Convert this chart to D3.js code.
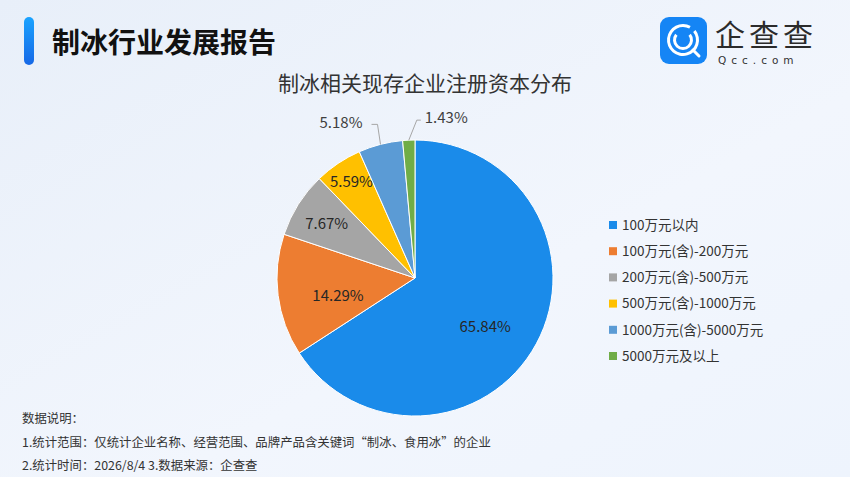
<!DOCTYPE html>
<html>
<head>
<meta charset="utf-8">
<script src="https://cdn.jsdelivr.net/npm/d3@7"></script>
<style>
  html, body { margin: 0; padding: 0; }
  body { width: 850px; height: 477px; overflow: hidden; font-family: "Noto Sans CJK SC", "Noto Sans", sans-serif; }
</style>
</head>
<body>
<div id="chart"></div>
<script>
// data
const categories = ["100万元以内", "100万元(含)-200万元", "200万元(含)-500万元", "500万元(含)-1000万元", "1000万元(含)-5000万元", "5000万元及以上"];
const shares = [65.84, 14.29, 7.67, 5.59, 5.18, 1.43];
const colors = ["#1A8BEA", "#ED7D31", "#A5A5A5", "#FFC000", "#5B9BD5", "#70AD47"];
const notes = [
    "数据说明：",
    "1.统计范围：仅统计企业名称、经营范围、品牌产品含关键词“制冰、食用冰”的企业",
    "2.统计时间：2026/8/4  3.数据来源：企查查"
];

const width = 850, height = 477;
const cx = 415, cy = 278, radius = 138;

const svg = d3.select("#chart").append("svg")
    .attr("width", width)
    .attr("height", height);

// background
const defs = svg.append("defs");
const bg = defs.append("linearGradient").attr("id", "bg")
    .attr("x1", "0").attr("y1", "0").attr("x2", "1").attr("y2", "1");
bg.append("stop").attr("offset", "0%").attr("stop-color", "#e8eff9");
bg.append("stop").attr("offset", "60%").attr("stop-color", "#f2f6fd");
bg.append("stop").attr("offset", "100%").attr("stop-color", "#eef4fd");
svg.append("rect").attr("width", width).attr("height", height).attr("fill", "url(#bg)");

const bar = defs.append("linearGradient").attr("id", "bar")
    .attr("x1", "0").attr("y1", "0").attr("x2", "0").attr("y2", "1");
bar.append("stop").attr("offset", "0%").attr("stop-color", "#1aa3ff");
bar.append("stop").attr("offset", "100%").attr("stop-color", "#1668e6");

// header
svg.append("rect").attr("x", 24).attr("y", 17).attr("width", 10).attr("height", 48)
    .attr("rx", 5).attr("fill", "url(#bar)");
svg.append("text").attr("x", 52).attr("y", 53)
    .attr("font-size", 28).attr("font-weight", "bold").attr("fill", "#111")
    .text("制冰行业发展报告");

// logo
const logo = svg.append("g").attr("transform", "translate(660,17)");
logo.append("rect").attr("width", 47).attr("height", 47).attr("rx", 9).attr("fill", "#1585f5");
const arcL = d3.arc();
logo.append("path").attr("transform", "translate(23,23)")
    .attr("d", arcL({innerRadius: 13, outerRadius: 16, startAngle: 0.9, endAngle: 2 * Math.PI + 0.5}))
    .attr("fill", "#fff");
logo.append("path").attr("transform", "translate(23,23)")
    .attr("d", arcL({innerRadius: 7, outerRadius: 10, startAngle: 0.9, endAngle: 2 * Math.PI - 0.9}))
    .attr("fill", "#fff");
logo.append("path").attr("d", "M33,33 L39,39").attr("stroke", "#fff").attr("stroke-width", 3).attr("stroke-linecap", "round");
svg.append("text").attr("x", 715).attr("y", 46)
    .attr("font-size", 30).attr("fill", "#2b2b2b").attr("letter-spacing", 4)
    .text("企查查");
svg.append("text").attr("x", 718).attr("y", 64)
    .attr("font-size", 10.5).attr("fill", "#333").attr("letter-spacing", 5)
    .attr("font-family", "DejaVu Sans, sans-serif")
    .text("Qcc.com");

// chart title
svg.append("text").attr("x", 425).attr("y", 91)
    .attr("text-anchor", "middle").attr("font-size", 21).attr("fill", "#333")
    .text("制冰相关现存企业注册资本分布");

// pie
const color = d3.scaleOrdinal().domain(categories).range(colors);
const pie = d3.pie().sort(null).value(d => d.v);
const slices = pie(categories.map((c, i) => ({c: c, v: shares[i]})));
const arc = d3.arc().innerRadius(0).outerRadius(radius);

const g = svg.append("g").attr("transform", `translate(${cx},${cy})`);
g.selectAll("path.slice").data(slices).enter().append("path")
    .attr("class", "slice")
    .attr("d", arc)
    .attr("fill", d => color(d.data.c))
    .attr("stroke", "#fff")
    .attr("stroke-width", 1);

// inside labels: label radius grows as the slice gets thinner
const labelR = [0.62, 0.57, 0.74, 0.84];
const labelShift = [[-5, 8], [1, 8], [-2, 0], [1, 0]];
g.selectAll("text.inlabel").data(slices.slice(0, 4)).enter().append("text")
    .attr("class", "inlabel")
    .attr("transform", (d, i) => {
        const c = d3.arc().innerRadius(0).outerRadius(radius * labelR[i] * 2).centroid(d);
        return `translate(${c[0] + labelShift[i][0]},${c[1] + labelShift[i][1]})`;
    })
    .attr("text-anchor", "middle").attr("dy", "0.35em")
    .attr("font-size", 15).attr("fill", "#262626")
    .text(d => d.data.v.toFixed(2) + "%");

// outside labels with leader lines
const outer = [
    {i: 4, bend: [-3, -20], tail: -6, anchor: "end"},
    {i: 5, bend: [8, -20], tail: 4, anchor: "start"}
];
outer.forEach(o => {
    const d = slices[o.i];
    const a = (d.startAngle + d.endAngle) / 2;
    const p0 = [Math.sin(a) * radius, -Math.cos(a) * radius];
    const p1 = [p0[0] + o.bend[0], p0[1] + o.bend[1]];
    const p2 = [p1[0] + o.tail, p1[1]];
    g.append("polyline")
        .attr("points", [p0, p1, p2].map(p => p.join(",")).join(" "))
        .attr("fill", "none").attr("stroke", "#a6a6a6").attr("stroke-width", 1);
    g.append("text")
        .attr("x", p2[0] + (o.anchor === "end" ? -9 : 4)).attr("y", p2[1] - 2)
        .attr("dy", "0.35em").attr("text-anchor", o.anchor)
        .attr("font-size", 15).attr("fill", "#404040")
        .text(d.data.v.toFixed(2) + "%");
});

// legend
const legendY = d3.scalePoint().domain(categories).range([225, 356]);
const legend = svg.append("g");
const item = legend.selectAll("g").data(categories).enter().append("g")
    .attr("transform", d => `translate(609,${legendY(d)})`);
item.append("rect").attr("x", 0).attr("y", -4).attr("width", 8).attr("height", 8)
    .attr("fill", d => color(d));
item.append("text").attr("x", 13).attr("dy", "0.35em")
    .attr("font-size", 13.5).attr("fill", "#333")
    .text(d => d);

// notes
svg.selectAll("text.note").data(notes).enter().append("text")
    .attr("class", "note")
    .attr("x", 22).attr("y", (d, i) => 419 + i * 23.5)
    .attr("dy", "0.35em")
    .attr("font-size", 12.4).attr("fill", "#333")
    .text(d => d);
</script>
</body>
</html>
